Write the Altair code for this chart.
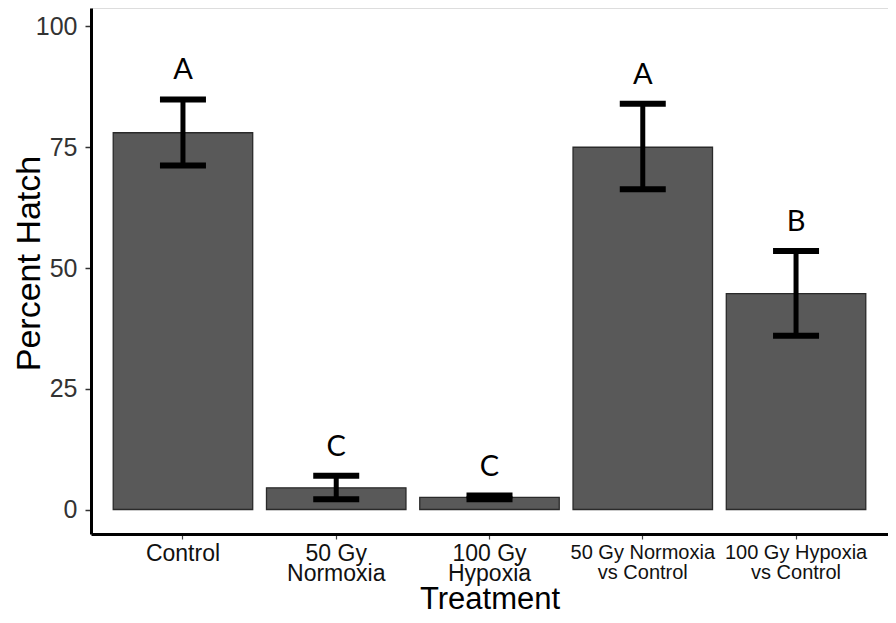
import altair as alt
import pandas as pd

treatments = ["Control", "50 Gy|Normoxia", "100 Gy|Hypoxia",
              "50 Gy Normoxia|vs Control", "100 Gy Hypoxia|vs Control"]
means = [78.0, 4.5, 2.5, 75.0, 44.7]
lower = [71.2, 2.1, 2.1, 66.3, 36.0]
upper = [84.9, 7.0, 2.9, 84.0, 53.5]
letters = ["A", "C", "C", "A", "B"]
y_ticks = [0, 25, 50, 75, 100]

df = pd.DataFrame({"treatment": treatments, "mean": means, "lower": lower,
                   "upper": upper, "letter": letters})

x_scale = alt.Scale(domain=treatments, paddingInner=0.09, paddingOuter=0.145)
y_scale = alt.Scale(domain=[-5.07, 103.83], nice=False, zero=False)

x_axis = alt.Axis(
    title="Treatment", labelAngle=0, labelExpr="split(datum.label, '|')",
    labelFont="Liberation Sans", labelColor="#111111",
    labelFontSize={"condition": {"test": "indexof(datum.value, 'vs') >= 0", "value": 20}, "value": 23},
    labelLineHeight=20, labelPadding=3, grid=False,
    titleFont="Liberation Sans", titleFontSize=31, titleFontWeight="normal",
    titleColor="#000000", titleY=74, titleBaseline="alphabetic",
    domainColor="#000000", domainWidth=3, tickColor="#444444", tickWidth=1.2, tickSize=5,
)
y_axis = alt.Axis(
    title="Percent Hatch", values=y_ticks, grid=False,
    labelFont="Liberation Sans", labelFontSize=25, labelColor="#333333", labelPadding=8,
    titleFont="Liberation Sans", titleFontSize=34, titleFontWeight="normal",
    titleColor="#000000", titleX=-52, titleY=255, titleBaseline="alphabetic",
    domainColor="#000000", domainWidth=3, tickColor="#333333", tickWidth=1.5, tickSize=6,
)

X = alt.X("treatment:N", scale=x_scale, axis=x_axis, sort=treatments)

base = alt.Chart(df)

bars = base.mark_bar(color="#595959", stroke="#2a2a2a", strokeWidth=1.3).encode(
    x=X,
    y=alt.Y("mean:Q", scale=y_scale, axis=y_axis),
    y2=alt.datum(0),
)
rules = base.mark_rule(color="#000000", strokeWidth=5).encode(
    x=X,
    y=alt.Y("lower:Q", scale=y_scale, axis=y_axis),
    y2="upper:Q",
)
cap_lo = base.mark_tick(color="#000000", size=46, thickness=6, orient="horizontal",
                        opacity=1).encode(
    x=X, y=alt.Y("lower:Q", scale=y_scale, axis=y_axis),
)
cap_hi = base.mark_tick(color="#000000", size=46, thickness=6, orient="horizontal",
                        opacity=1).encode(
    x=X, y=alt.Y("upper:Q", scale=y_scale, axis=y_axis),
)
text = base.mark_text(font="Lato", fontSize=29, color="#000000", dy=-29,
                      baseline="middle", align="center").encode(
    x=X, y=alt.Y("upper:Q", scale=y_scale, axis=y_axis), text="letter:N",
)

chart = alt.layer(bars, rules, cap_lo, cap_hi, text).properties(
    width=797, height=526,
    padding={"left": 83, "top": 0, "right": 0, "bottom": 81},
    autosize="none",
).configure_view(stroke=None, strokeWidth=0, fill="#ffffff").configure_axis(
    grid=False
).configure(background="#ffffff")

chart.save("out.html", embed_options={"renderer": "svg", "actions": False})
